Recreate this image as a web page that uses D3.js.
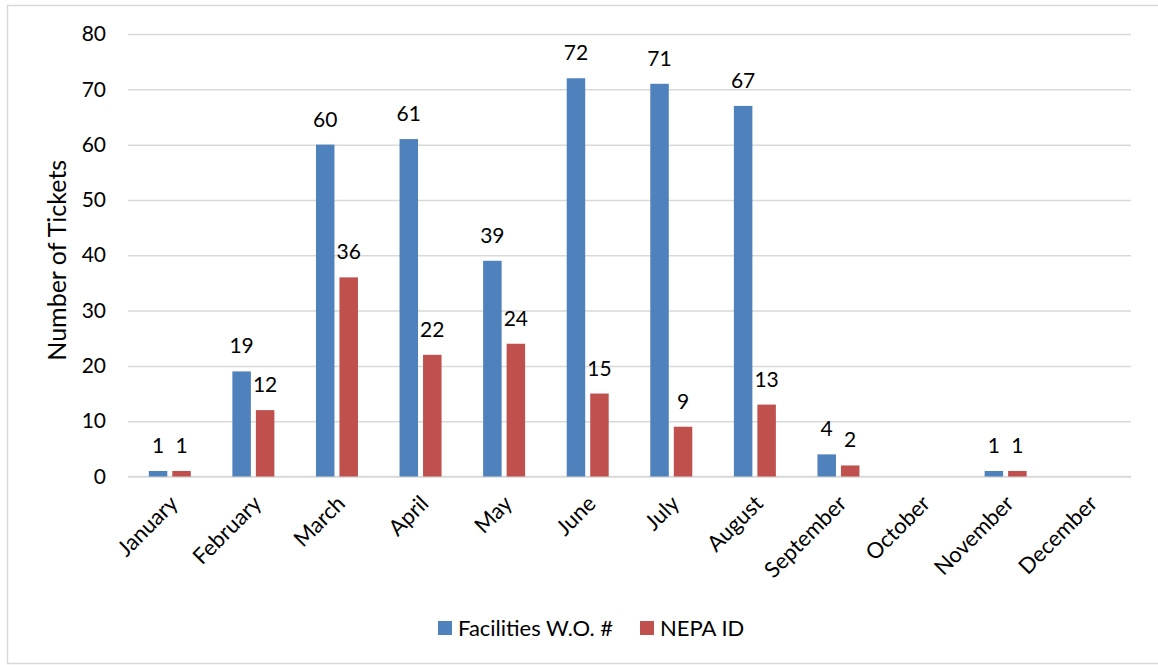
<!DOCTYPE html>
<html>
<head>
<meta charset="utf-8">
<script src="https://cdn.jsdelivr.net/npm/d3@7"></script>
<style>
  html, body { margin: 0; padding: 0; background: #fff; }
  svg { display: block; }
  text { font-family: Lato, "Open Sans", sans-serif; fill: #000; }
</style>
</head>
<body>
<svg id="chart" width="1158" height="665"></svg>
<script>
// Monthly ticket counts
const months = ["January", "February", "March", "April", "May", "June",
                "July", "August", "September", "October", "November", "December"];
const facilities = [1, 19, 60, 61, 39, 72, 71, 67, 4, null, 1, null];
const nepa = [1, 12, 36, 22, 24, 15, 9, 13, 2, null, 1, null];
const seriesNames = ["Facilities W.O. #", "NEPA ID"];
const seriesColors = ["#4F81BD", "#C0504D"];
const yTicks = [0, 10, 20, 30, 40, 50, 60, 70, 80];

const svg = d3.select("#chart");
const W = 1158, H = 665;
const plot = { left: 128, right: 1131, top: 34, bottom: 476.5 };

// outer chart border
svg.append("rect")
  .attr("x", 7.5).attr("y", 5.5)
  .attr("width", W + 10).attr("height", 658)
  .attr("fill", "none").attr("stroke", "#d9d9d9").attr("stroke-width", 1.5);

const x = d3.scaleBand().domain(months).range([plot.left, plot.right]);
const y = d3.scaleLinear().domain([0, 80]).range([plot.bottom, plot.top]);

// gridlines
const yAxis = d3.axisLeft(y).tickValues(yTicks).tickSize(-(plot.right - plot.left)).tickPadding(22);
const gy = svg.append("g").attr("transform", `translate(${plot.left},0)`).call(yAxis);
gy.select(".domain").remove();
gy.selectAll(".tick line").attr("stroke", "#d9d9d9").attr("stroke-width", 1.5);
gy.selectAll(".tick text").attr("font-size", 21).attr("font-family", "Lato, sans-serif").attr("fill", "#000");

// baseline axis
svg.append("line")
  .attr("x1", plot.left).attr("x2", plot.right)
  .attr("y1", y(0)).attr("y2", y(0))
  .attr("stroke", "#d9d9d9").attr("stroke-width", 1.5);

// bars
const barW = 18.5, gap = 5;
const series = [facilities, nepa];
series.forEach((vals, si) => {
  const g = svg.append("g");
  const data = months.map((m, i) => ({ m, v: vals[i] })).filter(d => d.v != null);
  const xOff = d => x(d.m) + x.bandwidth() / 2 + (si === 0 ? -(gap / 2 + barW) : gap / 2);
  g.selectAll("rect").data(data).join("rect")
    .attr("x", xOff)
    .attr("y", d => y(d.v))
    .attr("width", barW)
    .attr("height", d => y(0) - y(d.v))
    .attr("fill", seriesColors[si]);
  g.selectAll("text").data(data).join("text")
    .attr("x", d => xOff(d) + barW / 2)
    .attr("y", d => y(d.v) - 18)
    .attr("text-anchor", "middle")
    .attr("font-size", 21)
    .text(d => d.v);
});

// month labels, rotated
svg.append("g").selectAll("text").data(months).join("text")
  .attr("transform", d => `translate(${x(d) + x.bandwidth() / 2 + 4},${plot.bottom + 23}) rotate(-45)`)
  .attr("text-anchor", "end")
  .attr("dy", "0.35em")
  .attr("font-size", 22)
  .text(d => d);

// axis title
svg.append("text")
  .attr("transform", `translate(66,${(plot.top + plot.bottom) / 2 + 5}) rotate(-90)`)
  .attr("text-anchor", "middle")
  .attr("font-size", 25)
  .text("Number of Tickets");

// legend
const legend = svg.append("g").attr("transform", "translate(438,628)");
const legendX = [0, 202];
seriesNames.forEach((name, i) => {
  legend.append("rect")
    .attr("x", legendX[i]).attr("y", -7)
    .attr("width", 14).attr("height", 14)
    .attr("fill", seriesColors[i]);
  legend.append("text")
    .attr("x", legendX[i] + 20).attr("y", 0)
    .attr("dy", "0.35em")
    .attr("font-size", 22)
    .text(name);
});
</script>
</body>
</html>
